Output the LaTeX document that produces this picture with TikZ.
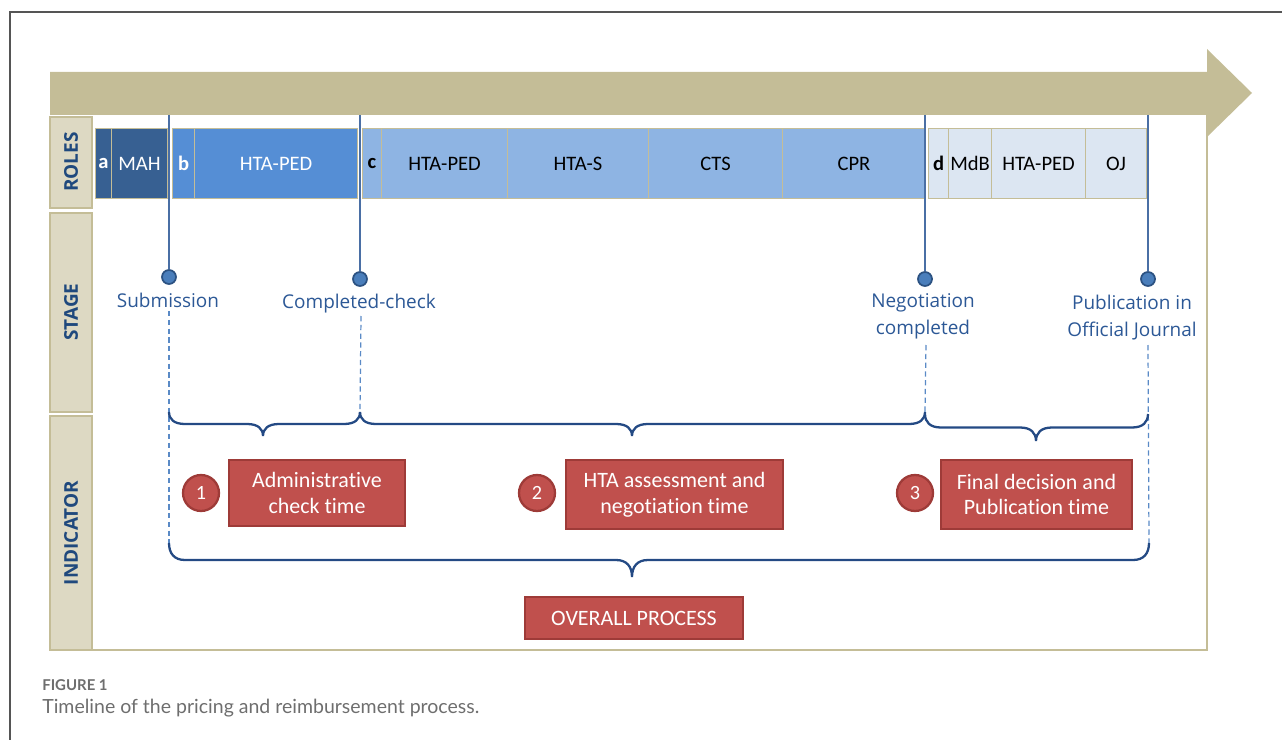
\documentclass[tikz,border=0pt]{standalone}
\usepackage{fontspec}
\setmainfont{Carlito}[Ligatures=NoCommon]
\newfontfamily\stagefont{Open Sans}
\newfontfamily\capfont{Lato}
\definecolor{arrowtan}{HTML}{C4BD97}
\definecolor{cellfill}{HTML}{DDD9C3}
\definecolor{cellborder}{HTML}{C4BD97}
\definecolor{framegray}{HTML}{555555}
\definecolor{mahblue}{HTML}{376092}
\definecolor{bblue}{HTML}{558ED5}
\definecolor{cblue}{HTML}{8EB4E3}
\definecolor{dblue}{HTML}{DCE6F2}
\definecolor{labblue}{HTML}{1F497D}
\definecolor{stageblue}{HTML}{2C5896}
\definecolor{lineblue}{HTML}{4A6FA5}
\definecolor{braceblue}{HTML}{244A84}
\definecolor{dashblue}{HTML}{5A8AC6}
\definecolor{dotfill}{HTML}{4A7EBB}
\definecolor{dotdraw}{HTML}{2C5282}
\definecolor{redfill}{HTML}{C0504D}
\definecolor{redborder}{HTML}{9E3B38}
\definecolor{capgray}{HTML}{6E6E6E}
\newcommand\rolebar[6]{\node[rolebox, fill=#4, text=#5, minimum width={(#3-#2)*0.02cm}] (#1) at (#2,128) {#6};}
% curly brace: x1, x2, tip x, top y, depth
\newcommand\curlybrace[5]{%
  \draw[bracestyle] (#1,#4) .. controls (#1,#4+#5*0.3) and (#1+5,#4+#5/2) .. (#1+16,#4+#5/2)
    -- (#3-16,#4+#5/2) .. controls (#3-5,#4+#5/2) and (#3,#4+#5*0.7) .. (#3,#4+#5)
    .. controls (#3,#4+#5*0.7) and (#3+5,#4+#5/2) .. (#3+16,#4+#5/2)
    -- (#2-16,#4+#5/2) .. controls (#2-5,#4+#5/2) and (#2,#4+#5*0.3) .. (#2,#4);}
\begin{document}
\begin{tikzpicture}[x=0.02cm,y=-0.02cm,
  rolebox/.style={draw=cellborder, line width=0.6pt, anchor=north west, inner sep=0pt,
    minimum height=1.4cm, font=\fontsize{11.7}{13}\selectfont},
  sidecell/.style={draw=cellborder, fill=cellfill, line width=0.8pt},
  sidelabel/.style={rotate=90, text=labblue, font=\stagefont\fontsize{10.8}{13}\selectfont\bfseries},
  vline/.style={draw=lineblue, line width=1.1pt},
  dot/.style={circle, fill=dotfill, draw=dotdraw, line width=1pt, minimum size=0.28cm, inner sep=0pt},
  stagelbl/.style={text=stageblue, align=center, inner sep=0pt, font=\stagefont\fontsize{10.8}{15.3}\selectfont},
  dashline/.style={draw=dashblue, line width=0.7pt, dash pattern=on 3pt off 2pt},
  bracestyle/.style={draw=braceblue, line width=1.3pt},
  redbox/.style={fill=redfill, draw=redborder, line width=1.3pt, text=white, align=center, inner sep=0pt,
    font=\fontsize{12.5}{14.7}\selectfont},
  numcirc/.style={circle, fill=redfill, draw=redborder, line width=1.3pt, text=white, inner sep=0pt,
    minimum size=0.72cm, font=\fontsize{11.5}{13}\selectfont}
]
\useasboundingbox (0,0) rectangle (1282,740);
% outer frame
\draw[framegray, line width=0.8pt] (10,740) -- (10,12) -- (1282,12);
% timeline arrow
\fill[arrowtan] (50,72) -- (1207,72) -- (1207,49) -- (1252,93) -- (1207,137) -- (1207,115) -- (50,115) -- cycle;
% panel border
\draw[cellborder, line width=0.8pt] (1207,115) -- (1207,650) -- (50,650);
% side cells
\draw[sidecell] (50,117) rectangle (92,208);
\draw[sidecell] (50,213) rectangle (92,412);
\draw[sidecell] (50,416) rectangle (92,650);
\node[sidelabel] (lroles) at (71,162) {ROLES};
\node[sidelabel] (lstage) at (71,312) {STAGE};
\node[sidelabel] (lind) at (71,533) {INDICATOR};
% role bars
\rolebar{ba}{95}{111}{mahblue}{white}{\bfseries a}
\rolebar{bmah}{111}{167}{mahblue}{white}{MAH}
\rolebar{bb}{172}{194}{bblue}{white}{\bfseries b}
\rolebar{bhta1}{194}{357}{bblue}{white}{HTA-PED}
\rolebar{bc}{362}{381}{cblue}{black}{\bfseries c}
\rolebar{bhta2}{381}{507}{cblue}{black}{HTA-PED}
\rolebar{bhtas}{507}{648}{cblue}{black}{HTA-S}
\rolebar{bcts}{648}{782}{cblue}{black}{CTS}
\rolebar{bcpr}{782}{925}{cblue}{black}{CPR}
\rolebar{bd}{928}{948}{dblue}{black}{\bfseries d}
\rolebar{bmdb}{948}{991}{dblue}{black}{MdB}
\rolebar{bhta3}{991}{1085}{dblue}{black}{HTA-PED}
\rolebar{boj}{1085}{1146}{dblue}{black}{OJ}
% milestones
\coordinate (t1) at (169,115);
\coordinate (t2) at (360,115);
\coordinate (t3) at (925,115);
\coordinate (t4) at (1148,115);
\node[dot] (d1) at (169,277) {};
\node[dot] (d2) at (360,279) {};
\node[dot] (d3) at (925,279) {};
\node[dot] (d4) at (1148,279) {};
\draw[vline] (t1) -- (d1);
\draw[vline] (t2) -- (d2);
\draw[vline] (t3) -- (d3);
\draw[vline] (t4) -- (d4);
\node[stagelbl] (s1) at (168,300) {Submission};
\node[stagelbl] (s2) at (359,304) {Completed-check};
\node[stagelbl] (s3) at (923,316) {Negotiation\\completed};
\node[stagelbl] (s4) at (1132,318) {Publication in\\Official Journal};
% dashed guides
\coordinate (e2) at (360,412);
\coordinate (e3) at (925,412);
\coordinate (o1) at (169,543);
\coordinate (o2) at (1149,543);
\coordinate (s1b) at (169,311);
\coordinate (s2b) at (361,316);
\coordinate (s3b) at (926,345);
\coordinate (s4b) at (1148,345);
\draw[dashline] (s1b) -- (o1);
\draw[dashline] (s2b) -- (e2);
\draw[dashline] (s3b) -- (e3);
\draw[dashline] (s4b) -- (o2);
% braces
\curlybrace{169}{360}{263}{412}{24}
\curlybrace{360}{925}{632}{412}{24}
\curlybrace{925}{1148}{1036}{414}{27}
\curlybrace{169}{1149}{632}{543}{34}
% indicators
\node[numcirc] (n1) at (201,493) {1};
\node[numcirc] (n2) at (537,493) {2};
\node[numcirc] (n3) at (915,493) {3};
\node[redbox, minimum width=3.52cm, minimum height=1.32cm] (r1) at (317,493) {Administrative\\check time};
\node[redbox, minimum width=4.34cm, minimum height=1.38cm] (r2) at (674.5,494.5) {HTA assessment and\\negotiation time};
\node[redbox, minimum width=3.82cm, minimum height=1.38cm] (r3) at (1036.5,494.5) {Final decision and\\Publication time};
\node[redbox, minimum width=4.36cm, minimum height=0.84cm] (r4) at (634,618) {OVERALL PROCESS};
% caption
\node[anchor=west, inner sep=0pt, text=capgray, font=\capfont\bfseries\fontsize{8.5}{9}\selectfont] (cap1) at (42,685) {FIGURE 1};
\node[anchor=west, inner sep=0pt, text=capgray, font=\capfont\fontsize{11.1}{12}\selectfont] (cap2) at (42,708) {Timeline of the pricing and reimbursement process.};
\end{tikzpicture}
\end{document}
